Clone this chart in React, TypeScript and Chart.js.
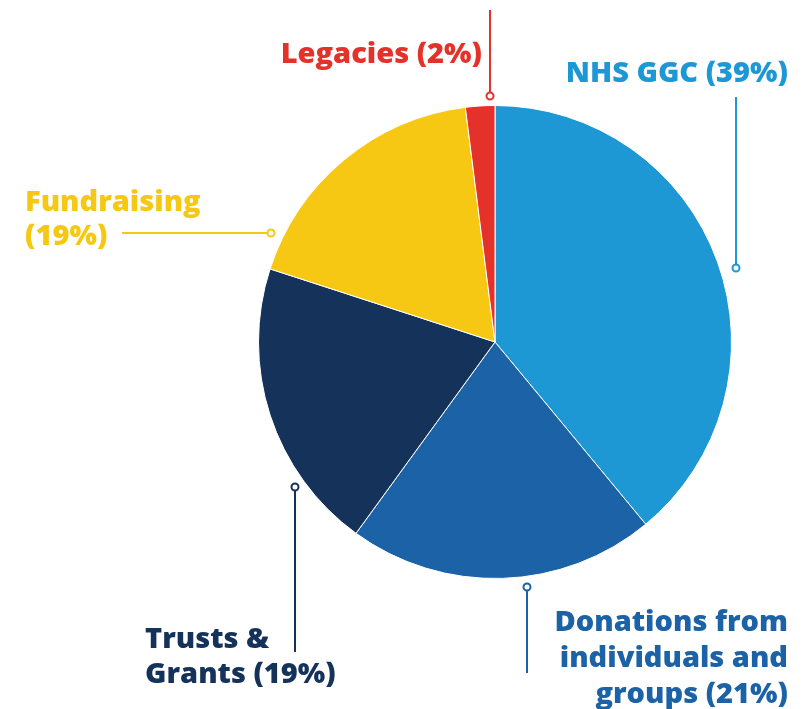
import React, { useEffect, useRef } from "react";
import { Chart, registerables } from "chart.js";
Chart.register(...registerables);

const categories = ["NHS GGC", "Donations from individuals and groups", "Trusts & Grants", "Fundraising", "Legacies"];
const values = [39, 21, 20, 18, 2];
const labelLines = [
  ["NHS GGC (39%)"],
  ["Donations from", "individuals and", "groups (21%)"],
  ["Trusts &", "Grants (19%)"],
  ["Fundraising", "(19%)"],
  ["Legacies (2%)"],
];
const colors = ["#1E98D5", "#1B63A6", "#15335A", "#F6C813", "#E4312A"];

// callout layout, offsets relative to pie centre
const callouts = [
  { dot: [241, -74], end: [241, -245], align: "right", tx: 293, ty: [-260] },
  { dot: [32, 245], end: [32, 331], align: "right", tx: 293, ty: [289, 325, 361] },
  { dot: [-200, 145], end: [-200, 310], align: "left", tx: -350, ty: [306, 341] },
  { dot: [-224, -109], end: [-373, -109], align: "left", tx: -470, ty: [-131, -97] },
  { dot: [-5, -246], end: [-5, -332], align: "right", tx: -13, ty: [-279] },
];

const FONT = "800 29px 'Open Sans', Lato, sans-serif";

const calloutPlugin = {
  id: "callouts",
  afterDraw(chart: any) {
    const meta = chart.getDatasetMeta(0);
    const arc = meta.data[0];
    if (!arc) return;
    const cx = arc.x;
    const cy = arc.y;
    const ctx = chart.ctx;
    ctx.save();
    callouts.forEach((c, i) => {
      const col = colors[i];
      ctx.strokeStyle = col;
      ctx.lineWidth = 2;
      ctx.beginPath();
      ctx.moveTo(cx + c.dot[0], cy + c.dot[1]);
      ctx.lineTo(cx + c.end[0], cy + c.end[1]);
      ctx.stroke();
      ctx.beginPath();
      ctx.arc(cx + c.dot[0], cy + c.dot[1], 3.5, 0, Math.PI * 2);
      ctx.fillStyle = "#ffffff";
      ctx.fill();
      ctx.stroke();
      ctx.fillStyle = col;
      ctx.font = FONT;
      ctx.textAlign = c.align;
      ctx.textBaseline = "alphabetic";
      labelLines[i].forEach((t, j) => {
        ctx.fillText(t, cx + c.tx, cy + c.ty[j]);
      });
    });
    ctx.restore();
  },
};

export default function App() {
  const ref = useRef<HTMLCanvasElement>(null);
  useEffect(() => {
    if (!ref.current) return;
    const chart = new Chart(ref.current, {
      type: "pie",
      data: {
        labels: categories,
        datasets: [
          {
            data: values,
            backgroundColor: colors,
            borderColor: "#ffffff",
            borderWidth: 1,
          },
        ],
      },
      options: {
        responsive: false,
        animation: false,
        devicePixelRatio: 1,
        layout: { padding: { left: 258, right: 76, top: 105, bottom: 130 } },
        plugins: {
          legend: { display: false },
          tooltip: { enabled: false },
        },
      },
      plugins: [calloutPlugin],
    });
    return () => chart.destroy();
  }, []);
  return (
    <div style={{ position: "absolute", left: 0, top: 0, width: 808, height: 709, background: "#fff" }}>
      <canvas ref={ref} width={808} height={709} style={{ display: "block" }} />
    </div>
  );
}
